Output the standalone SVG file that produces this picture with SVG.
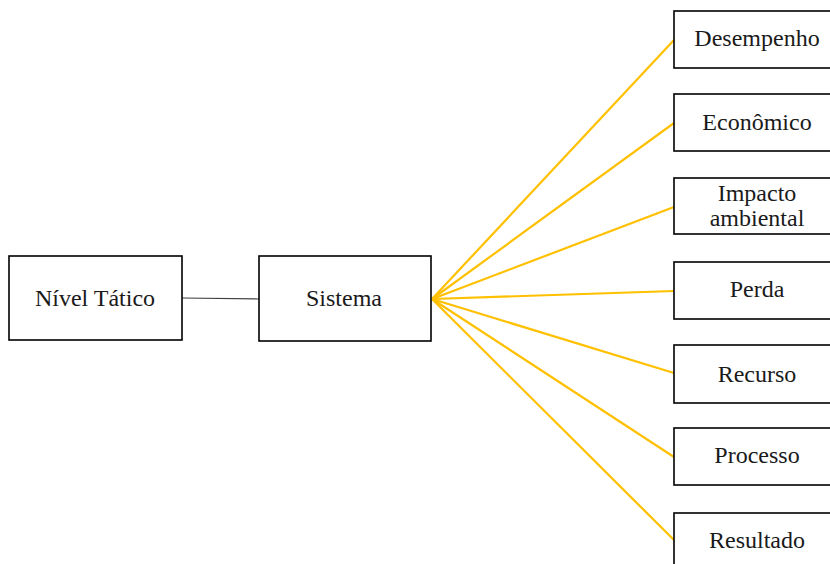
<svg xmlns="http://www.w3.org/2000/svg" width="830" height="564" viewBox="0 0 830 564">
  <style>
    .box { fill: #ffffff; stroke: #000000; stroke-width: 1.6; }
    .lbl { font-family: "Liberation Serif", "Times New Roman", serif; font-size: 24px; fill: #1a1a1a; text-anchor: middle; }
    .fan { stroke: #ffc000; stroke-width: 2.2; fill: none; }
    .link { stroke: #404040; stroke-width: 1.2; fill: none; }
  </style>
  <rect width="830" height="564" fill="#ffffff"/>
  <g id="connectors">
    <line class="link" x1="182" y1="298" x2="259" y2="299"/>
    <line class="fan" x1="432" y1="299" x2="674" y2="40"/>
    <line class="fan" x1="432" y1="299" x2="674" y2="123"/>
    <line class="fan" x1="432" y1="299" x2="674" y2="207"/>
    <line class="fan" x1="432" y1="299" x2="674" y2="291"/>
    <line class="fan" x1="432" y1="299" x2="674" y2="373"/>
    <line class="fan" x1="432" y1="299" x2="674" y2="457"/>
    <line class="fan" x1="432" y1="299" x2="674" y2="540"/>
  </g>
  <g id="nivel-tatico">
    <rect class="box" x="9" y="256" width="173" height="84"/>
    <text class="lbl" x="95" y="306">Nível Tático</text>
  </g>
  <g id="sistema">
    <rect class="box" x="259" y="256" width="172" height="85"/>
    <text class="lbl" x="344" y="306">Sistema</text>
  </g>
  <g id="desempenho">
    <rect class="box" x="674" y="11" width="170" height="57"/>
    <text class="lbl" x="757" y="46">Desempenho</text>
  </g>
  <g id="economico">
    <rect class="box" x="674" y="94" width="170" height="57"/>
    <text class="lbl" x="757" y="130">Econômico</text>
  </g>
  <g id="impacto-ambiental">
    <rect class="box" x="674" y="178" width="170" height="56"/>
    <text class="lbl" x="757" y="201">Impacto</text>
    <text class="lbl" x="757" y="226">ambiental</text>
  </g>
  <g id="perda">
    <rect class="box" x="674" y="262" width="170" height="57"/>
    <text class="lbl" x="757" y="297">Perda</text>
  </g>
  <g id="recurso">
    <rect class="box" x="674" y="345" width="170" height="58"/>
    <text class="lbl" x="757" y="382">Recurso</text>
  </g>
  <g id="processo">
    <rect class="box" x="674" y="428" width="170" height="57"/>
    <text class="lbl" x="757" y="463">Processo</text>
  </g>
  <g id="resultado">
    <rect class="box" x="674" y="513" width="170" height="60"/>
    <text class="lbl" x="757" y="548">Resultado</text>
  </g>
</svg>
